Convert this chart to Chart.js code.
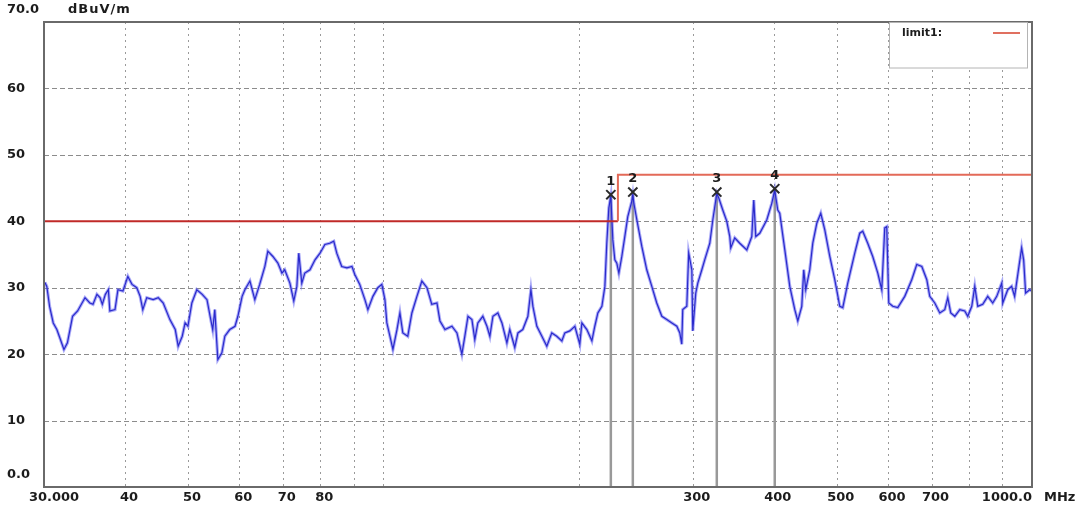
<!DOCTYPE html>
<html>
<head>
<meta charset="utf-8">
<script src="https://cdn.jsdelivr.net/npm/chart.js@4.4.1/dist/chart.umd.min.js"></script>
<style>
  html, body { margin: 0; padding: 0; background: #fff; }
  canvas { display: block; }
</style>
</head>
<body>
<canvas id="emi" width="1080" height="514"></canvas>
<script>
// scan trace: frequency in MHz, level in dBuV/m
const freq = [
  30.1, 30.3, 30.6, 31.0, 31.4, 31.8, 32.2, 32.6, 32.9, 33.2, 33.8, 34.7, 35.3, 35.7, 36.2, 36.6, 36.9,
  37.3, 37.7, 37.9, 38.6, 39.0, 39.7, 40.4, 41.0, 41.7, 42.2, 42.6, 43.2, 44.2, 45.0, 45.8, 46.9, 47.8,
  48.3, 49.0, 49.5, 50.0, 50.7, 51.6, 52.6, 53.5, 54.1, 54.6, 55.0, 55.6, 56.4, 57.0, 58.0, 59.1, 59.7,
  60.6, 61.2, 62.3, 63.4, 64.5, 65.7, 66.4, 67.6, 68.8, 69.8, 70.5, 71.8, 72.8, 73.6, 74.1, 74.9, 75.7,
  77.1, 78.5, 79.9, 81.3, 82.7, 83.9, 84.8, 86.3, 87.9, 89.5, 90.4, 92.0, 93.7, 94.7, 96.4, 98.1, 99.5,
  100.6, 101.3, 102.4, 103.5, 105.0, 106.1, 107.2, 109.1, 110.7, 112.7, 114.7, 116.8, 118.8, 121.0,
  122.3, 124.5, 127.6, 129.9, 132.2, 133.6, 135.1, 137.0, 138.4, 139.9, 142.4, 144.5, 146.0, 147.6,
  150.2, 152.4, 155.1, 156.7, 159.5, 161.3, 164.1, 167.1, 168.9, 170.1, 172.5, 175.6, 178.7, 181.9,
  185.1, 188.5, 190.5, 193.9, 197.4, 200.9, 202.4, 206.0, 209.7, 211.9, 214.2, 217.3, 219.6, 221.1,
  222.7, 224.3, 225.9, 227.5, 229.1, 230.8, 233.2, 235.7, 238.2, 241.6, 242.5, 243.4, 246.0, 250.4,
  254.8, 259.4, 264.0, 268.8, 273.6, 278.5, 283.5, 286.5, 288.5, 289.5, 293.7, 295.7, 299.0, 300.0,
  303.2, 305.4, 309.8, 313.0, 318.7, 322.1, 326.7, 329.0, 333.7, 338.5, 342.1, 343.3, 348.2, 354.4,
  363.4, 369.9, 372.5, 375.2, 380.5, 390.1, 397.1, 401.3, 405.6, 408.5, 415.9, 423.3, 430.9, 435.5,
  441.7, 444.8, 448.0, 454.4, 459.3, 465.9, 472.5, 479.3, 487.9, 496.6, 505.5, 510.9, 520.0, 533.1,
  542.6, 548.4, 558.2, 568.2, 578.5, 586.7, 593.0, 597.2, 601.5, 610.1, 621.0, 636.6, 652.6, 664.3,
  676.3, 688.4, 695.7, 708.2, 720.9, 733.8, 741.6, 749.5, 760.3, 773.9, 787.7, 796.1, 807.5, 816.2,
  824.9, 839.6, 854.6, 869.9, 882.4, 898.2, 901.4, 917.5, 930.3, 940.2, 963.9, 970.8, 977.7, 991.8, 1000
];
const level = [
  30.8, 30.2, 27.2, 24.7, 23.7, 22.2, 20.7, 21.7, 23.7, 25.7, 26.5, 28.5, 27.7, 27.5, 29.0, 28.5, 27.5,
  29.0, 29.7, 26.5, 26.7, 29.7, 29.5, 31.7, 30.5, 30.0, 28.7, 26.7, 28.5, 28.2, 28.5, 27.7, 25.2, 23.7,
  21.2, 22.7, 24.7, 24.2, 27.7, 29.7, 29.0, 28.2, 25.7, 23.7, 26.7, 19.2, 20.2, 22.7, 23.7, 24.2, 25.7,
  28.7, 29.7, 31.0, 28.2, 30.5, 33.2, 35.5, 34.7, 33.7, 32.2, 32.7, 30.7, 28.0, 30.2, 35.2, 30.7, 32.2,
  32.7, 34.2, 35.2, 36.5, 36.7, 37.0, 35.2, 33.2, 33.0, 33.2, 32.0, 30.5, 28.2, 26.7, 28.7, 30.0, 30.5,
  28.2, 24.7, 22.7, 20.7, 23.7, 26.2, 23.2, 22.7, 26.2, 28.7, 31.0, 30.0, 27.5, 27.7,
  25.0, 23.7, 24.2, 23.2, 20.0, 22.7, 25.7, 25.2, 22.2, 24.7, 25.7, 24.2, 22.7, 25.7,
  26.2, 24.7, 21.7, 23.7, 21.0, 23.2, 23.7, 25.7, 29.7, 27.2, 24.2, 22.7, 21.2, 23.2,
  22.7, 22.0, 23.2, 23.5, 24.2, 21.5, 24.7, 23.7, 22.0, 24.2, 26.2, 27.2, 30.2, 36.7,
  42.0, 43.8, 37.2, 34.2, 33.7, 32.2, 34.7, 37.7, 40.7, 43.0, 44.0, 42.7, 40.2, 36.2,
  32.7, 30.2, 27.7, 25.7, 25.2, 24.7, 24.2, 23.2, 21.5, 26.7, 27.2, 35.2, 32.7, 23.5,
  29.2, 30.7, 32.7, 34.2, 36.7, 40.2, 44.2, 43.5, 41.7, 40.0, 37.7, 36.0, 37.5, 36.7,
  35.7, 37.7, 43.2, 37.7, 38.2, 40.2, 42.7, 44.7, 41.7, 41.2, 35.7, 30.2, 26.7, 25.0,
  27.2, 32.7, 29.7, 32.7, 36.7, 39.7, 41.2, 38.7, 34.7, 31.2, 27.2, 27.0, 30.7, 35.2,
  38.2, 38.5, 36.7, 34.7, 32.2, 29.7, 39.0, 39.2, 27.7, 27.2, 27.0, 28.7, 31.2, 33.5,
  33.2, 31.2, 28.7, 27.7, 26.2, 26.7, 28.5, 26.2, 25.7, 26.7, 26.5, 25.7, 27.2, 30.2,
  27.2, 27.5, 28.7, 27.7, 28.7, 30.7, 27.7, 29.7, 30.2, 28.7, 36.0, 34.2, 29.2, 29.7, 29.5
];

const limitFreq = [30, 230, 230, 1000];
const limitLevel = [40, 40, 47, 47];

const markerFreq = [224.3, 242.5, 326.7, 401.3];
const markerLevel = [44.0, 44.4, 44.4, 44.9];
const markerText = ['1', '2', '3', '4'];

const xTicks = [30, 40, 50, 60, 70, 80, 300, 400, 500, 600, 700, 1000];
const xTickText = ['30.000', '40', '50', '60', '70', '80', '300', '400', '500', '600', '700', '1000.0'];
const xGrid = [40, 50, 60, 70, 80, 90, 100, 200, 300, 400, 500, 600, 700, 800, 900];
const yTicks = [0, 10, 20, 30, 40, 50, 60, 70];
const yTickText = ['0.0', '10', '20', '30', '40', '50', '60', '70.0'];

const trace = freq.map((f, i) => ({ x: f, y: level[i] }));
const limit = limitFreq.map((f, i) => ({ x: f, y: limitLevel[i] }));
const marks = markerFreq.map((f, i) => ({ x: f, y: markerLevel[i] }));
const stems = [];
markerFreq.forEach((f, i) => {
  stems.push({ x: f, y: 0 }, { x: f, y: markerLevel[i] }, { x: f, y: null });
});

const FONT = 'bold 13px "DejaVu Sans"';
const INK = '#1c1c1c';

function seg(ctx, x1, y1, x2, y2) {
  ctx.beginPath();
  ctx.moveTo(x1, y1);
  ctx.lineTo(x2, y2);
  ctx.stroke();
}

const paper = {
  id: 'paper',
  beforeDatasetsDraw(chart) {
    const { ctx, chartArea: a, scales: { x, y } } = chart;
    ctx.save();
    ctx.lineWidth = 1;
    ctx.strokeStyle = '#8c8c8c';
    ctx.setLineDash([5, 3]);
    yTicks.slice(1, -1).forEach(v => {
      const py = Math.round(y.getPixelForValue(v)) + 0.5;
      seg(ctx, a.left, py, a.right, py);
    });
    ctx.strokeStyle = '#9a9a9a';
    ctx.setLineDash([2, 4]);
    xGrid.forEach(v => {
      const px = Math.round(x.getPixelForValue(v)) + 0.5;
      seg(ctx, px, a.top, px, a.bottom);
    });
    ctx.restore();
  },
  afterDraw(chart) {
    const { ctx, chartArea: a, scales: { x, y } } = chart;
    ctx.save();
    // frame
    ctx.strokeStyle = '#6a6a6a';
    ctx.lineWidth = 2;
    ctx.strokeRect(a.left, a.top, a.right - a.left, a.bottom - a.top);

    // legend box
    ctx.lineWidth = 1;
    ctx.strokeStyle = '#b4b4b4';
    ctx.fillStyle = '#fff';
    ctx.fillRect(889.5, a.top + 1, 138, 45);
    ctx.strokeRect(889.5, a.top + 0.5, 138, 45.5);
    ctx.strokeStyle = '#e07060';
    ctx.lineWidth = 2;
    seg(ctx, 993, a.top + 11, 1020, a.top + 11);
    ctx.fillStyle = INK;
    ctx.font = 'bold 11px "DejaVu Sans"';
    ctx.textBaseline = 'middle';
    ctx.textAlign = 'left';
    ctx.fillText('limit1:', 902, a.top + 11);

    // y labels
    ctx.font = FONT;
    yTicks.forEach((v, i) => {
      let py = y.getPixelForValue(v);
      if (i === 0 || i === yTicks.length - 1) py -= 12;
      ctx.fillText(yTickText[i], 7, py);
    });
    ctx.save();
    ctx.letterSpacing = '1px';
    ctx.fillText('dBuV/m', a.left + 24, a.top - 12);
    ctx.restore();

    // x labels
    xTicks.forEach((v, i) => {
      const px = x.getPixelForValue(v);
      if (i === 0) {
        ctx.textAlign = 'left';
        ctx.fillText(xTickText[i], px - 15, a.bottom + 11);
      } else if (i === xTicks.length - 1) {
        ctx.textAlign = 'right';
        ctx.fillText(xTickText[i], px, a.bottom + 11);
      } else {
        ctx.textAlign = 'center';
        ctx.fillText(xTickText[i], px + 4, a.bottom + 11);
      }
    });
    ctx.textAlign = 'left';
    ctx.fillText('MHz', a.right + 12, a.bottom + 11);

    // marker numbers
    ctx.textAlign = 'center';
    const meta = chart.getDatasetMeta(4);
    meta.data.forEach((pt, i) => {
      ctx.fillText(markerText[i], pt.x, pt.y - 13);
    });
    ctx.restore();
  }
};

new Chart(document.getElementById('emi'), {
  type: 'line',
  data: {
    datasets: [
      {
        data: stems,
        borderColor: '#999999',
        borderWidth: 2.5,
        pointRadius: 0,
        spanGaps: false,
        order: 5
      },
      {
        data: trace,
        borderColor: 'rgba(100, 100, 240, 0.55)',
        borderWidth: 3.2,
        pointRadius: 0,
        order: 4
      },
      {
        data: trace,
        borderColor: '#2a2acc',
        borderWidth: 1.2,
        pointRadius: 0,
        order: 3
      },
      {
        data: limit,
        borderWidth: 2,
        pointRadius: 0,
        segment: {
          borderColor: c => (c.p0.parsed.y === 40 && c.p1.parsed.y === 40 ? '#c02a28' : '#e36a58')
        },
        order: 2
      },
      {
        data: marks,
        showLine: false,
        pointStyle: 'crossRot',
        pointRadius: 6.5,
        borderColor: '#2a2a2a',
        borderWidth: 2,
        order: 1
      }
    ]
  },
  options: {
    responsive: false,
    animation: false,
    devicePixelRatio: 1,
    layout: { padding: { left: 44, right: 48, top: 22, bottom: 27 } },
    plugins: { legend: { display: false }, tooltip: { enabled: false } },
    scales: {
      x: { type: 'logarithmic', min: 30, max: 1000, display: false },
      y: { type: 'linear', min: 0, max: 70, display: false }
    }
  },
  plugins: [paper]
});
</script>
</body>
</html>
